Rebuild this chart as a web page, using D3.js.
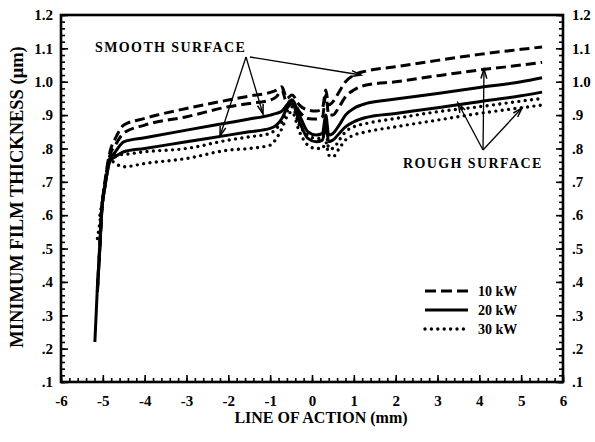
<!DOCTYPE html>
<html>
<head>
<meta charset="utf-8">
<script src="https://cdn.jsdelivr.net/npm/d3@7"></script>
<style>
  html, body { margin: 0; padding: 0; background: #fff; }
  svg { display: block; }
  text { font-family: "Liberation Serif", "Times New Roman", serif; font-weight: bold; fill: #000; }
</style>
</head>
<body>
<svg id="chart" width="595" height="442"></svg>
<script>
// Line of action positions (mm), shared by all six curves
const xs = [-5.19, -5.13, -5.07, -5.03, -4.95, -4.83, -4.7, -4.5, -4, -3, -2, -1.5, -1, -0.85, -0.72, -0.6, -0.48,
            -0.3, -0.1, 0.1, 0.25, 0.33, 0.4, 0.5, 0.65, 0.8, 1.0, 1.3, 2, 3, 4, 5, 5.5];

// Minimum film thickness (µm); two curves per power level
const kw10Upper = [null, 0.38, 0.52, 0.61, 0.70, 0.79, 0.83, 0.87, 0.89, 0.92, 0.945, 0.957, 0.968, 0.975, 0.985, 0.95, 0.96,
                   0.93, 0.915, 0.912, 0.92, 0.975, 0.93, 0.94, 0.97, 1.0, 1.02, 1.032, 1.045, 1.064, 1.082, 1.097, 1.104];
const kw10Lower = [null, 0.37, 0.51, 0.60, 0.69, 0.78, 0.81, 0.846, 0.87, 0.895, 0.925, 0.935, 0.945, 0.955, 0.975, 0.935, 0.945,
                   0.91, 0.89, 0.888, 0.895, 0.96, 0.9, 0.9, 0.925, 0.955, 0.975, 0.99, 1.0, 1.018, 1.035, 1.05, 1.058];
const kw20Upper = [0.22, 0.385, 0.505, 0.607, 0.685, 0.765, 0.79, 0.82, 0.832, 0.855, 0.877, 0.888, 0.9, 0.905, 0.912, 0.93, 0.945,
                   0.9, 0.85, 0.84, 0.845, 0.9, 0.84, 0.845, 0.87, 0.9, 0.92, 0.935, 0.948, 0.965, 0.983, 1.0, 1.012];
const kw20Lower = [null, 0.37, 0.505, 0.607, 0.685, 0.762, 0.775, 0.79, 0.80, 0.82, 0.84, 0.85, 0.86, 0.87, 0.89, 0.92, 0.935,
                   0.88, 0.83, 0.82, 0.825, 0.87, 0.82, 0.825, 0.845, 0.865, 0.88, 0.893, 0.905, 0.922, 0.94, 0.958, 0.969];
const kw30Upper = [null, null, 0.60, 0.63, 0.70, 0.77, 0.78, 0.782, 0.79, 0.80, 0.825, 0.835, 0.845, 0.86, 0.88, 0.91, 0.925,
                   0.87, 0.84, 0.83, 0.83, 0.86, 0.80, 0.80, 0.825, 0.85, 0.865, 0.875, 0.89, 0.91, 0.925, 0.942, 0.95];
const kw30Lower = [null, 0.53, 0.58, 0.62, 0.69, 0.765, 0.755, 0.745, 0.755, 0.77, 0.795, 0.80, 0.81, 0.83, 0.86, 0.895, 0.91,
                   0.85, 0.81, 0.80, 0.80, 0.82, 0.78, 0.775, 0.80, 0.825, 0.84, 0.85, 0.865, 0.885, 0.905, 0.922, 0.93];

// Axis ticks and labels
const xTicks = [-6, -5, -4, -3, -2, -1, 0, 1, 2, 3, 4, 5, 6];
const xTickLabels = ["-6", "-5", "-4", "-3", "-2", "-1", "0", "1", "2", "3", "4", "5", "6"];
const yTicks = [1.2, 1.1, 1.0, 0.9, 0.8, 0.7, 0.6, 0.5, 0.4, 0.3, 0.2, 0.1];
const yTickLabels = ["1.2", "1.1", "1.0", ".9", ".8", ".7", ".6", ".5", ".4", ".3", ".2", ".1"];

// Legend entries
const legendLabels = ["10 kW", "20 kW", "30 kW"];
const legendStyles = ["dash", "solid", "dot"];

const svg = d3.select("#chart");
const plot = { left: 61, right: 563, top: 15, bottom: 382 };

const x = d3.scaleLinear().domain([-6, 6]).range([plot.left, plot.right]);
const y = d3.scaleLinear().domain([0.1, 1.2]).range([plot.bottom, plot.top]);

const styleOf = {
  dash:  { dash: "10,5", width: 3, cap: "butt" },
  solid: { dash: null, width: 3, cap: "butt" },
  dot:   { dash: "0,6.4", width: 3.4, cap: "round" }
};

// Minor ticks
const xMinor = d3.range(-6, 6.001, 0.2).map(v => +v.toFixed(2));
const yMinor = d3.range(0.1, 1.2001, 0.02).map(v => +v.toFixed(3));

function minorAxis(axis, vals) {
  return axis.tickValues(vals).tickSize(-4).tickFormat("");
}

svg.append("g").attr("transform", `translate(0,${plot.bottom})`)
  .call(minorAxis(d3.axisBottom(x), xMinor));
svg.append("g").attr("transform", `translate(${plot.left},0)`)
  .call(minorAxis(d3.axisLeft(y), yMinor));
svg.append("g").attr("transform", `translate(${plot.right},0)`)
  .call(minorAxis(d3.axisRight(y), yMinor));

// Major ticks with labels
svg.append("g").attr("transform", `translate(0,${plot.bottom})`)
  .call(d3.axisBottom(x).tickValues(xTicks).tickSize(-7).tickPadding(13)
    .tickFormat((d, i) => xTickLabels[i]));
svg.append("g").attr("transform", `translate(${plot.left},0)`)
  .call(d3.axisLeft(y).tickValues(yTicks).tickSize(-7).tickPadding(8)
    .tickFormat((d, i) => yTickLabels[i]));
svg.append("g").attr("transform", `translate(${plot.right},0)`)
  .call(d3.axisRight(y).tickValues(yTicks).tickSize(-7).tickPadding(9)
    .tickFormat((d, i) => yTickLabels[i]));

svg.selectAll(".domain").remove();
svg.selectAll(".tick line").attr("stroke", "#000").attr("stroke-width", 1.6);
svg.selectAll(".tick text").attr("font-size", 15).attr("font-family", "Liberation Serif").attr("font-weight", "bold");

// Plot frame
svg.append("rect")
  .attr("x", plot.left).attr("y", plot.top)
  .attr("width", plot.right - plot.left).attr("height", plot.bottom - plot.top)
  .attr("fill", "none").attr("stroke", "#000").attr("stroke-width", 2.6);

// Curves
const line = d3.line()
  .defined(d => d[1] != null)
  .x(d => x(d[0])).y(d => y(d[1]))
  .curve(d3.curveMonotoneX);

const series = [
  { vals: kw10Upper, style: "dash" },
  { vals: kw10Lower, style: "dash" },
  { vals: kw20Upper, style: "solid" },
  { vals: kw20Lower, style: "solid" },
  { vals: kw30Upper, style: "dot" },
  { vals: kw30Lower, style: "dot" }
];

series.forEach(s => {
  const st = styleOf[s.style];
  const pts = xs.map((xv, i) => [xv, s.vals[i]]);
  svg.append("path")
    .attr("d", line(pts))
    .attr("fill", "none")
    .attr("stroke", "#000")
    .attr("stroke-width", st.width)
    .attr("stroke-linecap", st.cap)
    .attr("stroke-linejoin", "round")
    .attr("stroke-dasharray", st.dash);
});

// Annotation arrows (open V heads)
function arrow(x1, y1, x2, y2) {
  svg.append("line").attr("x1", x1).attr("y1", y1).attr("x2", x2).attr("y2", y2)
    .attr("stroke", "#000").attr("stroke-width", 1.3);
  const a = Math.atan2(y2 - y1, x2 - x1);
  const len = 10, spread = 0.3;
  const p1 = [x2 - len * Math.cos(a - spread), y2 - len * Math.sin(a - spread)];
  const p2 = [x2 - len * Math.cos(a + spread), y2 - len * Math.sin(a + spread)];
  svg.append("path")
    .attr("d", `M${p1[0]},${p1[1]}L${x2},${y2}L${p2[0]},${p2[1]}`)
    .attr("fill", "none").attr("stroke", "#000").attr("stroke-width", 1.5);
}

svg.append("text").attr("x", 95).attr("y", 52)
  .attr("font-size", 14).attr("letter-spacing", 1.4).text("SMOOTH SURFACE");
arrow(246, 57, 220, 136);
arrow(246, 57, 263, 114);
arrow(250, 57, 361, 75);

svg.append("text").attr("x", 403).attr("y", 168)
  .attr("font-size", 14).attr("letter-spacing", 1.4).text("ROUGH SURFACE");
arrow(483, 150, 458, 103);
arrow(483, 150, 484, 69);
arrow(483, 150, 522, 108);

// Legend
const legendY = [291, 310, 329];
legendLabels.forEach((lab, i) => {
  const st = styleOf[legendStyles[i]];
  svg.append("line")
    .attr("x1", 425).attr("x2", 468).attr("y1", legendY[i]).attr("y2", legendY[i])
    .attr("stroke", "#000").attr("stroke-width", st.width)
    .attr("stroke-linecap", st.cap)
    .attr("stroke-dasharray", legendStyles[i] === "dash" ? "11,5" : st.dash);
  svg.append("text").attr("x", 478).attr("y", legendY[i] + 5)
    .attr("font-size", 14).text(lab);
});

// Axis titles
svg.append("text")
  .attr("x", 321).attr("y", 423)
  .attr("text-anchor", "middle").attr("font-size", 16)
  .text("LINE OF ACTION (mm)");

svg.append("text")
  .attr("transform", `translate(23,197) rotate(-90)`)
  .attr("text-anchor", "middle").attr("font-size", 18.5)
  .text("MINIMUM FILM THICKNESS (μm)");
</script>
</body>
</html>
